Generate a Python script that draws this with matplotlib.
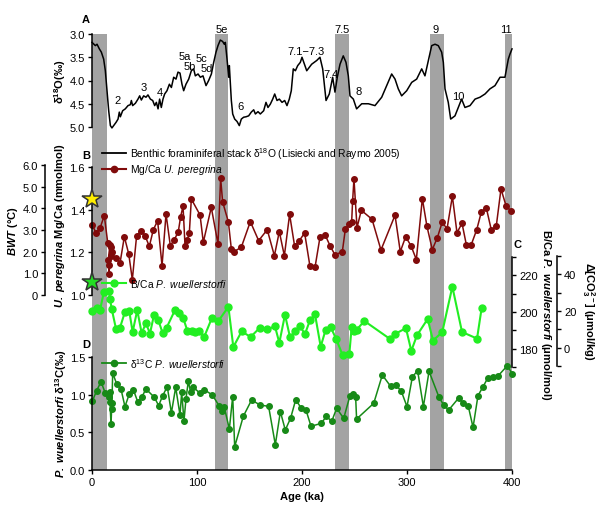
import matplotlib
matplotlib.use("Agg")
import matplotlib.pyplot as plt
from matplotlib.lines import Line2D
import numpy as np

plt.rcParams['font.family'] = ['Liberation Sans', 'DejaVu Sans']
plt.rcParams['mathtext.fontset'] = 'custom'
plt.rcParams['mathtext.rm'] = 'Liberation Sans'
plt.rcParams['mathtext.it'] = 'Liberation Sans:italic'
plt.rcParams['mathtext.bf'] = 'Liberation Sans:bold'
plt.rcParams['mathtext.bfit'] = 'Liberation Sans:italic:bold'
plt.rcParams['font.size'] = 8

# ---------------- data ----------------
# Benthic stack d18O (LR04)
lr_age = [0, 3.2, 4.8, 7, 8.9, 11.1, 12.7, 14.3, 15.9, 17.5, 19, 20.6, 22.9, 24.8, 26, 27, 29.2, 31.7,
          34.3, 36.5, 37.5, 38.7, 41.3, 43.8, 45.4, 47, 49.2, 51.4, 53.3, 55.6, 57.8, 59.7, 61.3, 62.9,
          64.4, 66, 67.6, 69.2, 71.4, 73.7, 75.6, 77.8, 80, 81.9, 83.8, 85.7, 87.3, 89.5, 92.1, 94.6,
          96.8, 98.4, 101, 103.2, 105.7, 108.6, 111.1, 113.7, 115.9, 118.1, 120, 122.2, 124.4, 126, 127,
          128.6, 130.2, 130.8, 132.7, 134, 135.9, 138.1, 140.3, 142.2, 144.4, 146.7, 149.2, 151.7, 154,
          155.6, 158.1, 160.3, 163.5, 165.7, 167.6, 169.8, 172.1, 174, 176.2, 178.4, 181, 183.5, 185.7,
          187.9, 189.8, 191.7, 193.7, 195.9, 198.4, 200, 204.5, 209.2, 214, 217.1, 219.7, 222.9, 226,
          229.2, 231.4, 233.6, 236.2, 239.3, 241.9, 244.1, 245.7, 248.9, 252, 256.9, 263.2, 269.5, 275.9,
          280.7, 285.4, 288.6, 291.7, 294.9, 299.7, 304.5, 309.2, 314, 317.1, 320.3, 323.5, 326.7, 329.8,
          333, 334.6, 336.2, 339.3, 341.6, 345.7, 348.9, 352, 355.2, 360, 364.8, 369.5, 374.3, 379, 383.8,
          388.6, 393.3, 396.5, 398.1, 400]
lr_d18o = [3.18, 3.25, 3.22, 3.32, 3.39, 3.54, 3.79, 4.22, 4.65, 4.97, 5.02, 4.97, 4.90, 4.83, 4.68, 4.78,
           4.65, 4.61, 4.54, 4.52, 4.43, 4.54, 4.49, 4.40, 4.33, 4.42, 4.33, 4.36, 4.31, 4.40, 4.43, 4.54,
           4.47, 4.61, 4.40, 4.58, 4.40, 4.29, 4.22, 4.08, 4.15, 3.93, 3.97, 3.82, 3.84, 4.08, 4.22, 4.08,
           3.97, 3.79, 3.75, 3.90, 3.86, 3.93, 3.90, 4.11, 4.00, 3.86, 3.61, 3.39, 3.25, 3.13, 3.16, 3.22,
           3.18, 3.54, 3.93, 3.68, 4.43, 4.72, 4.83, 4.88, 4.97, 4.83, 4.79, 4.78, 4.76, 4.68, 4.63, 4.72,
           4.67, 4.72, 4.65, 4.47, 4.58, 4.51, 4.40, 4.29, 4.43, 4.40, 4.47, 4.43, 4.54, 4.40, 4.22, 3.75,
           3.79, 3.68, 3.61, 3.50, 3.79, 3.65, 3.57, 3.50, 3.75, 4.43, 4.29, 3.93, 4.25, 3.93, 3.65, 3.47,
           3.61, 3.90, 4.33, 4.40, 4.61, 4.50, 4.50, 4.54, 4.36, 4.11, 3.86, 3.97, 4.18, 4.33, 4.22, 4.04,
           3.97, 3.75, 3.90, 3.57, 3.25, 3.22, 3.25, 3.39, 3.61, 4.18, 4.47, 4.83, 4.76, 4.58, 4.40, 4.58,
           4.54, 4.40, 4.36, 4.29, 4.18, 4.11, 3.93, 3.93, 3.54, 3.43, 3.32]

# Mg/Ca U. peregrina
mg_age = [0.3, 3.8, 7.6, 11.7, 15.0, 17.1, 15.5, 16.5, 16.2, 18.1, 18.7, 18.1, 22.9, 26.7, 30.8, 35.0,
          38.4, 42.5, 46.7, 50.5, 54.6, 58.4, 62.5, 66.7, 70.5, 74.6, 78.4, 82.2, 84.4, 86.7, 88.6, 90.8,
          92.7, 94.6, 102.9, 106.0, 113.6, 120.0, 122.5, 124.4, 129.9, 132.7, 135.2, 142.2, 150.8, 158.7,
          166.9, 173.7, 178.4, 183.2, 188.2, 193.0, 197.5, 202.5, 207.6, 212.4, 217.1, 221.9, 226.7, 231.4,
          238.4, 241.3, 244.8, 247.3, 248.2, 249.5, 252.4, 256.5, 266.7, 275.2, 288.6, 293.6, 298.7, 303.8,
          308.9, 314.6, 319.0, 324.1, 328.9, 333.6, 338.1, 343.2, 347.6, 352.4, 356.5, 361.2, 366.4, 370.8,
          375.5, 380.3, 385.0, 389.5, 394.3, 398.8]
mg_ca = [1.328, 1.291, 1.313, 1.372, 1.244, 1.234, 1.166, 1.141, 1.098, 1.224, 1.200, 1.184, 1.175, 1.150,
         1.273, 1.192, 1.072, 1.278, 1.301, 1.278, 1.228, 1.306, 1.348, 1.137, 1.380, 1.231, 1.259, 1.297,
         1.367, 1.416, 1.231, 1.259, 1.291, 1.450, 1.375, 1.247, 1.411, 1.239, 1.548, 1.437, 1.342, 1.216,
         1.203, 1.224, 1.344, 1.255, 1.306, 1.184, 1.297, 1.184, 1.378, 1.228, 1.255, 1.291, 1.134, 1.130,
         1.270, 1.283, 1.231, 1.188, 1.203, 1.309, 1.333, 1.344, 1.441, 1.544, 1.316, 1.397, 1.355, 1.211,
         1.374, 1.203, 1.273, 1.231, 1.166, 1.452, 1.322, 1.213, 1.269, 1.342, 1.309, 1.463, 1.292, 1.336,
         1.236, 1.236, 1.306, 1.389, 1.409, 1.305, 1.322, 1.497, 1.419, 1.394]

# B/Ca P. wuellerstorfi
bca_age = [0.3, 4.4, 7.6, 11.4, 16.5, 17.1, 18.7, 22.9, 26.7, 31.4, 35.5, 38.7, 43.1, 47.3, 51.4, 55.2,
           59.0, 63.1, 67.3, 71.1, 79.0, 82.9, 87.0, 90.8, 94.9, 98.0, 102.2, 106.7, 114.0, 120.3, 129.9,
           134.6, 142.5, 151.1, 160.0, 166.9, 174.3, 178.4, 183.8, 188.6, 193.3, 198.1, 202.9, 207.6, 212.4,
           217.8, 222.5, 227.3, 232.4, 238.7, 245.1, 247.3, 249.5, 252.0, 259.4, 283.8, 288.6, 299.0, 304.1,
           309.5, 319.7, 324.8, 333.6, 343.2, 352.4, 366.7, 371.1]
bca = [200.4, 202.2, 201.0, 211.1, 211.6, 207.2, 201.9, 190.7, 191.5, 200.1, 200.4, 189.1, 201.0, 188.5,
       193.9, 188.2, 198.3, 195.6, 188.5, 191.5, 201.0, 199.2, 196.5, 189.8, 189.8, 189.1, 189.4, 186.2,
       196.5, 195.1, 202.8, 180.9, 189.4, 186.4, 191.5, 190.7, 192.1, 183.2, 198.5, 186.2, 189.4, 192.1,
       188.0, 195.6, 198.7, 181.1, 190.3, 191.7, 185.5, 176.4, 177.3, 191.9, 189.4, 190.3, 195.1, 185.3,
       188.0, 191.2, 178.8, 187.3, 196.2, 184.4, 189.1, 213.8, 189.1, 185.5, 202.2]

# d13C P. wuellerstorfi
c13_age = [0.3, 4.4, 8.6, 12.7, 16.2, 17.1, 17.1, 18.1, 18.7, 19.0, 19.7, 23.5, 27.6, 31.4, 35.5, 39.4,
           43.5, 47.3, 51.4, 59.4, 63.5, 67.3, 71.7, 75.6, 79.7, 83.8, 85.4, 87.6, 89.5, 91.7, 94.0, 95.9,
           102.9, 106.9, 114.6, 121.0, 123.5, 126.0, 130.8, 134.0, 135.9, 144.1, 152.0, 160.0, 168.2, 174.6,
           179.4, 184.1, 189.2, 194.0, 199.0, 203.8, 208.6, 218.4, 223.2, 228.3, 233.0, 239.7, 245.7, 248.2,
           251.1, 252.0, 268.3, 276.5, 284.4, 289.5, 294.6, 300.0, 305.1, 310.1, 315.6, 321.0, 330.5, 334.9,
           339.7, 349.2, 353.7, 358.4, 362.9, 367.6, 372.1, 376.8, 381.6, 386.4, 395.6, 400.3]
c13 = [0.912, 1.053, 1.172, 1.018, 0.965, 1.040, 0.907, 0.611, 0.810, 0.890, 1.288, 1.142, 1.075, 0.841,
       1.009, 1.066, 0.907, 0.965, 1.075, 0.965, 0.854, 0.987, 1.106, 0.757, 1.098, 0.730, 1.031, 0.654,
       0.942, 1.177, 1.031, 1.106, 1.018, 1.066, 0.996, 0.854, 0.788, 0.832, 0.544, 0.974, 0.310, 0.713,
       0.929, 0.863, 0.845, 0.336, 0.774, 0.531, 0.690, 0.933, 0.827, 0.796, 0.580, 0.620, 0.713, 0.646,
       0.819, 0.686, 0.987, 1.009, 0.965, 0.677, 0.885, 1.261, 1.111, 1.128, 1.045, 0.841, 1.235, 1.319,
       0.841, 1.310, 0.965, 0.863, 0.796, 0.956, 0.885, 0.845, 0.566, 0.987, 1.098, 1.217, 1.239, 1.244,
       1.385, 1.274]

# interglacial shading (ka)
shade_start = [0, 117, 231, 322, 393]
shade_end = [14, 130, 245, 335, 400]

# modern core-top stars
star_mgca_yellow = 1.45
star_mgca_green = 1.06

stage_labels = ['2', '3', '4', '5a', '5b', '5c', '5d', '5e', '6', '7.1\u22127.3', '7.4', '7.5', '8', '9', '10', '11']

# ---------------- figure ----------------
W, H = 600, 506
fig = plt.figure(figsize=(W / 100, H / 100), dpi=100)


def make_ax(l, r, t, b):
    ax = fig.add_axes([l / W, 1 - b / H, (r - l) / W, (b - t) / H])
    ax.patch.set_visible(False)
    for s in ax.spines.values():
        s.set_visible(False)
        s.set_linewidth(1.1)
    ax.tick_params(length=3, width=1, labelsize=8, pad=2)
    return ax


def ftext(px, py, s, **kw):
    fig.text(px / W, 1 - py / H, s, **kw)


XL, XR = 92, 512

# background shading
axbg = make_ax(XL, XR, 35, 471)
axbg.set_xlim(0, 400)
axbg.set_ylim(0, 1)
axbg.set_xticks([])
axbg.set_yticks([])
for s0, s1 in zip(shade_start, shade_end):
    axbg.axvspan(s0, s1, color='#a3a3a3', lw=0)

# Panel A
axA = make_ax(XL, XR, 35, 128)
axA.set_xlim(0, 400)
axA.set_ylim(5.0, 3.0)
axA.spines['left'].set_visible(True)
axA.set_xticks([])
axA.set_yticks([3.0, 3.5, 4.0, 4.5, 5.0])
axA.set_yticklabels(['3.0', '3.5', '4.0', '4.5', '5.0'])
axA.plot(lr_age, lr_d18o, color='black', lw=1.1, clip_on=False)
ftext(60, 82, 'δ$^{\\mathbf{18}}$O(‰)', rotation=90, ha='center', va='center', fontsize=8,
      fontweight='bold')

stage_px = [(118, 101), (144, 88), (160, 93), (185, 57), (190, 67), (201, 59), (207, 69), (222, 30),
            (241, 107), (306, 52), (331, 75), (342, 30), (359, 92), (436, 30), (458, 97), (506, 30)]
for lab, (px, py) in zip(stage_labels, stage_px):
    ftext(px, py, lab, ha='center', va='center', fontsize=8)

# Panel B: Mg/Ca
axB = make_ax(XL, XR, 168, 296)
axB.set_xlim(0, 400)
axB.set_ylim(1.0, 1.6)
axB.spines['left'].set_visible(True)
axB.set_xticks([])
axB.set_yticks([1.0, 1.2, 1.4, 1.6])
axB.set_yticklabels(['1.0', '1.2', '1.4', '1.6'])
axB.plot(mg_age, mg_ca, color='#800b0b', lw=1.1, marker='o', ms=4, clip_on=False)
axB.plot([0], [star_mgca_yellow], marker='*', ms=15, mfc='#ffee00', mec='#333333', mew=1.1,
         clip_on=False, zorder=5)
axB.plot([0], [star_mgca_green], marker='*', ms=15, mfc='#22dd22', mec='#333333', mew=1.1,
         clip_on=False, zorder=5)
ftext(60, 226, '$\\mathbfit{U.\\ peregrina}$ Mg/Ca (mmolmol)', rotation=90, ha='center', va='center',
      fontsize=8, fontweight='bold')

# BWT axis
axT = make_ax(45, 50, 166, 296)
axT.set_ylim(0, 6)
axT.set_xticks([])
axT.spines['left'].set_visible(True)
axT.set_yticks([0, 1, 2, 3, 4, 5, 6])
axT.set_yticklabels(['0', '1.0', '2.0', '3.0', '4.0', '5.0', '6.0'])
ftext(13, 231, '$\\mathbfit{BWT}$ (°C)', rotation=90, ha='center', va='center', fontsize=8,
      fontweight='bold')

# Panel C: B/Ca
axC = make_ax(XL, XR, 258, 368)
axC.set_xlim(0, 400)
axC.set_ylim(170, 230)
axC.spines['right'].set_visible(True)
axC.set_xticks([])
axC.yaxis.tick_right()
axC.set_yticks([170, 180, 190, 200, 210, 220, 230])
axC.set_yticklabels(['', '180', '', '200', '', '220', ''])
axC.plot(bca_age, bca, color='#22ee22', lw=1.5, marker='o', ms=5, clip_on=False)
ftext(546, 315, 'B/Ca $\\mathbfit{P.\\ wuellerstorfi}$ (μmol/mol)', rotation=-90, ha='center', va='center',
      fontsize=8, fontweight='bold')

# Delta CO3 axis
axD2 = make_ax(520, 557, 257, 367)
axD2.set_ylim(-10, 50)
axD2.set_xticks([])
axD2.spines['right'].set_visible(True)
axD2.yaxis.tick_right()
axD2.set_yticks([-10, 0, 10, 20, 30, 40, 50])
axD2.set_yticklabels(['', '0', '', '20', '', '40', ''])
ftext(588, 311, 'Δ[CO$_\\mathbf{3}^\\mathbf{2-}$] (μmol/kg)', rotation=-90, ha='center', va='center',
      fontsize=8, fontweight='bold')

# Panel D: d13C
axD = make_ax(XL, XR, 358, 471)
axD.set_xlim(0, 400)
axD.set_ylim(0, 1.5)
axD.spines['left'].set_visible(True)
axD.spines['bottom'].set_visible(True)
axD.set_yticks([0.0, 0.5, 1.0, 1.5])
axD.set_yticklabels(['0.0', '0.5', '1.0', '1.5'])
axD.set_xticks([0, 100, 200, 300, 400])
axD.plot(c13_age, c13, color='#178a17', lw=1.1, marker='o', ms=4, clip_on=False)
ftext(61, 414, '$\\mathbfit{P.\\ wuellerstorfi}$ δ$^{\\mathbf{13}}$C(‰)', rotation=90, ha='center',
      va='center', fontsize=8, fontweight='bold')
ftext(302, 497, 'Age (ka)', ha='center', va='center', fontsize=8, fontweight='bold')

# Panel letters
for lab, (px, py) in zip(['A', 'B', 'C', 'D'], [(86, 20), (86, 156), (518, 245), (86, 345)]):
    ftext(px, py, lab, ha='center', va='center', fontsize=8, fontweight='bold')

# Legends
def leg(py, color, lw, ms, text):
    x1, x2 = 102 / W, 126 / W
    y = 1 - py / H
    fig.add_artist(Line2D([x1, x2], [y, y], color=color, lw=lw, transform=fig.transFigure))
    if ms:
        fig.add_artist(Line2D([(x1 + x2) / 2], [y], color=color, marker='o', ms=ms, lw=0,
                              transform=fig.transFigure))
    ftext(130, py, text, ha='left', va='center', fontsize=7.4)

leg(154, 'black', 1.3, 0, 'Benthic foraminiferal stack δ$^{18}$O (Lisiecki and Raymo 2005)')
leg(170, '#800b0b', 1.5, 4.5, 'Mg/Ca $\\mathit{U.\\ peregrina}$')
leg(284, '#22ee22', 1.5, 5, 'B/Ca $\\mathit{P.\\ wuellerstorfi}$')
leg(364, '#178a17', 1.3, 4.5, 'δ$^{13}$C $\\mathit{P.\\ wuellerstorfi}$')

fig.savefig('out.png', dpi=100)
